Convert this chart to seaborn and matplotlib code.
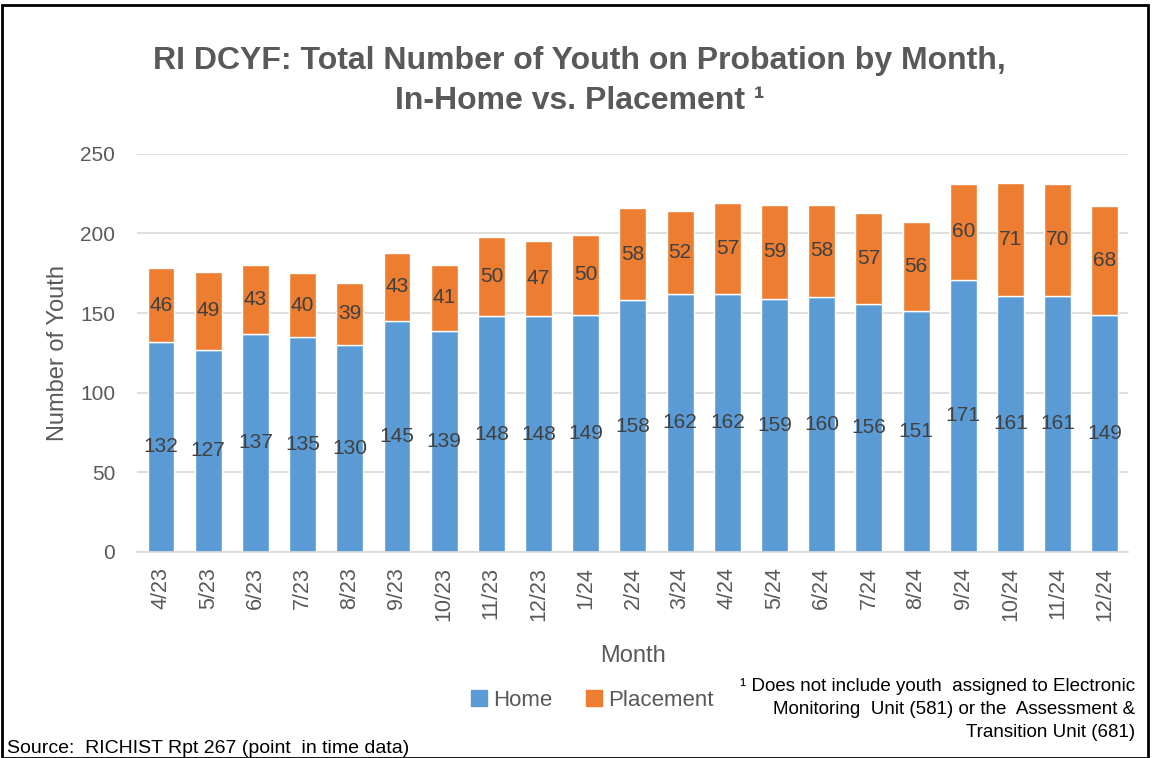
import pandas as pd
import matplotlib.pyplot as plt
import seaborn as sns
from matplotlib.patches import Patch, Rectangle

# === data ===
months = ["4/23", "5/23", "6/23", "7/23", "8/23", "9/23", "10/23", "11/23", "12/23",
          "1/24", "2/24", "3/24", "4/24", "5/24", "6/24", "7/24", "8/24", "9/24",
          "10/24", "11/24", "12/24"]
home = [132, 127, 137, 135, 130, 145, 139, 148, 148, 149, 158, 162, 162, 159, 160,
        156, 151, 171, 161, 161, 149]
placement = [46, 49, 43, 40, 39, 43, 41, 50, 47, 50, 58, 52, 57, 59, 58, 57, 56, 60,
             71, 70, 68]

df = pd.DataFrame({"Month": months, "Home": home, "Placement": placement})

HOME_C = "#5B9BD5"
PLACE_C = "#ED7D31"
TXT = "#595959"

sns.set_style("white")
plt.rcParams["font.family"] = ["Liberation Sans", "DejaVu Sans"]

fig = plt.figure(figsize=(11.55, 7.58), dpi=100)
ax = fig.add_axes([0.119, 0.272, 0.858, 0.525])

sns.barplot(data=df, x="Month", y="Home", color=HOME_C, width=0.57,
            saturation=1, ax=ax, zorder=2)
sns.barplot(data=df, x="Month", y="Placement", bottom=df["Home"], color=PLACE_C,
            width=0.57, saturation=1, ax=ax, zorder=2)

for cont in ax.containers:
    ax.bar_label(cont, label_type="center", fontsize=15, color="#404040")

ax.set_ylim(0, 250)
ax.set_yticks(range(0, 251, 50))
ax.grid(axis="y", color="#d9d9d9", linewidth=1.2, zorder=0)
ax.set_xlim(-0.5, len(months) - 0.5)
for s in ["top", "right", "left"]:
    ax.spines[s].set_visible(False)
ax.spines["bottom"].set_color("#d9d9d9")
ax.spines["bottom"].set_linewidth(1.2)

ax.tick_params(axis="y", length=0, labelsize=15, labelcolor=TXT, pad=16)
ax.tick_params(axis="x", which="major", length=0, labelsize=15.5, labelcolor=TXT,
               labelrotation=90, pad=11)
ax.set_xticks([i - 0.5 for i in range(len(months) + 1)], minor=True)
ax.tick_params(axis="x", which="minor", length=8, color="#d9d9d9", width=1.2)

ax.set_xlabel("Month", fontsize=17, color=TXT, labelpad=17)
ax.set_ylabel("Number of Youth", fontsize=17, color=TXT, labelpad=8)

fig.text(0.502, 0.920, "RI DCYF: Total Number of Youth on Probation by Month,",
         ha="center", va="center", fontsize=23, fontweight="bold", color=TXT)
fig.text(0.502, 0.867, "In-Home vs. Placement \u00b9", ha="center", va="center",
         fontsize=23, fontweight="bold", color=TXT)

handles = [Patch(color=HOME_C, label="Home"), Patch(color=PLACE_C, label="Placement")]
fig.legend(handles=handles, loc="center", bbox_to_anchor=(0.513, 0.076), ncol=2,
           frameon=False, fontsize=16, labelcolor=TXT, handlelength=0.7,
           handleheight=0.7, handletextpad=0.3, columnspacing=1.5)

fig.text(0.983, 0.064, "\u00b9 Does not include youth  assigned to Electronic\n"
         "Monitoring  Unit (581) or the  Assessment &\nTransition Unit (681)",
         ha="right", va="center", fontsize=13.5, color="black", linespacing=1.45)
fig.text(0.006, 0.013, "Source:  RICHIST Rpt 267 (point  in time data)",
         ha="left", va="center", fontsize=14, color="black")

fig.patches.append(Rectangle((0.002, 0.0), 0.992, 0.994, transform=fig.transFigure,
                             fill=False, edgecolor="black", linewidth=2))

fig.savefig("out.png", dpi=100)
